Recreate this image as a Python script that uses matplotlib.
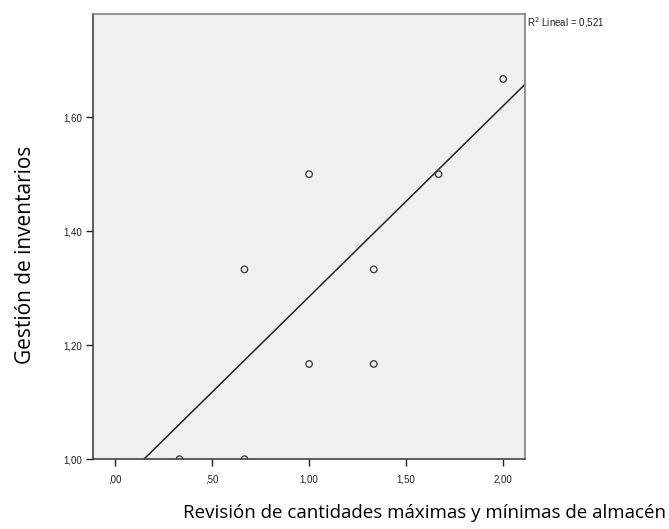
import numpy as np
import matplotlib.pyplot as plt

# data
x_vals = [0.333, 0.667, 0.667, 1.0, 1.0, 1.333, 1.333, 1.667, 2.0]
y_vals = [1.0, 1.0, 1.333, 1.5, 1.167, 1.333, 1.167, 1.5, 1.667]
fit_slope = 0.335
fit_intercept = 0.95
r2_text = 'R$^2$ Lineal = 0,521'
x_ticks = [0.0, 0.5, 1.0, 1.5, 2.0]
x_ticklabels = [',00', ',50', '1,00', '1,50', '2,00']
y_ticks = [1.0, 1.2, 1.4, 1.6]
y_ticklabels = ['1,00', '1,20', '1,40', '1,60']

fig = plt.figure(figsize=(6.69, 5.29), dpi=100)
ax = fig.add_axes([0.139, 0.132, 0.646, 0.8415])
ax.set_facecolor('#f0f0f0')

xmin, xmax = -0.113, 2.113
ax.set_xlim(xmin, xmax)
ax.set_ylim(1.0, 1.781)

xl = np.array([xmin, xmax])
ax.plot(xl, fit_intercept + fit_slope * xl, color='#222222', lw=1.1, zorder=2)
ax.scatter(x_vals, y_vals, s=22, facecolors='none', edgecolors='#333333',
           linewidths=0.9, zorder=3)

ax.set_xticks(x_ticks)
ax.set_xticklabels(x_ticklabels)
ax.set_yticks(y_ticks)
ax.set_yticklabels(y_ticklabels)
ax.tick_params(direction='out', length=5, width=1, labelsize=7,
               colors='#222222', labelcolor='#222222', pad=3)
ax.tick_params(axis='x', pad=6)
for lab in ax.get_xticklabels() + ax.get_yticklabels():
    lab.set_family('Liberation Sans')

ax.spines['left'].set_color('#333333')
ax.spines['bottom'].set_color('#333333')
ax.spines['top'].set_color('#777777')
ax.spines['right'].set_color('#777777')
for s in ax.spines.values():
    s.set_linewidth(1.1)

fig.text(0.787, 0.958, r2_text, fontsize=7, family='Liberation Sans',
         va='center', ha='left', color='#222222')

fig.text(0.996, 0.03, 'Revisión de cantidades máximas y mínimas de almacén',
         fontsize=13.5, family='Open Sans', ha='right', va='center')
fig.text(0.038, 0.518, 'Gestión de inventarios', fontsize=15, family='Open Sans',
         rotation=90, ha='center', va='center')

fig.savefig('out.png', dpi=100)
